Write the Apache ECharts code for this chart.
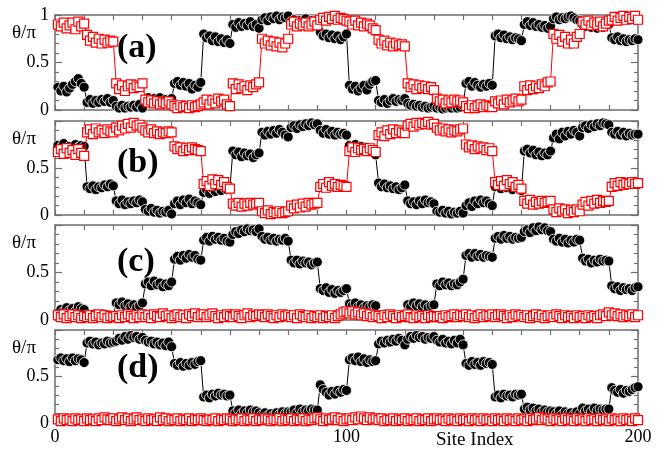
<!DOCTYPE html>
<html>
<head>
<meta charset="utf-8">
<script src="https://cdn.jsdelivr.net/npm/echarts@6/dist/echarts.min.js"></script>
<style>html,body{margin:0;padding:0;background:#fff}#c{width:670px;height:452px}</style>
</head>
<body>
<div id="c"></div>
<script>
// Panel (a)
const aBlack = [
0.24,0.20,0.25,0.19,0.23,0.27,0.30,0.33,0.28,0.24,
0.08,0.11,0.07,0.10,0.08,0.11,0.09,0.12,0.08,0.10,
0.04,0.02,0.05,0.02,0.04,0.03,0.05,0.03,0.06,0.02,
0.10,0.13,0.09,0.12,0.10,0.13,0.09,0.11,0.10,0.12,
0.28,0.30,0.26,0.29,0.25,0.28,0.22,0.26,0.24,0.29,
0.80,0.76,0.78,0.73,0.77,0.72,0.75,0.71,0.74,0.70,
0.90,0.87,0.92,0.88,0.91,0.89,0.93,0.88,0.90,0.86,
0.95,0.97,0.94,0.98,0.96,0.99,0.95,0.98,0.97,0.99,
0.93,0.95,0.92,0.94,0.93,0.96,0.92,0.94,0.93,0.95,
0.82,0.78,0.80,0.76,0.79,0.75,0.78,0.74,0.77,0.80,
0.26,0.22,0.25,0.20,0.23,0.26,0.21,0.27,0.30,0.31,
0.10,0.08,0.11,0.07,0.10,0.12,0.09,0.11,0.10,0.12,
0.07,0.05,0.06,0.04,0.05,0.03,0.04,0.02,0.03,0.04,
0.02,0.03,0.01,0.02,0.03,0.02,0.04,0.02,0.03,0.05,
0.28,0.30,0.25,0.29,0.26,0.24,0.27,0.25,0.28,0.26,
0.78,0.80,0.76,0.79,0.75,0.77,0.74,0.76,0.75,0.73,
0.90,0.93,0.89,0.92,0.88,0.90,0.87,0.89,0.86,0.88,
0.96,0.98,0.95,0.97,0.96,0.98,0.99,0.97,0.95,0.94,
0.90,0.88,0.91,0.87,0.89,0.86,0.88,0.87,0.89,0.90,
0.76,0.74,0.77,0.73,0.75,0.72,0.74,0.73,0.75,0.74];
const aRed = [
0.90,0.88,0.92,0.86,0.89,0.92,0.85,0.93,0.88,0.91,
0.79,0.73,0.77,0.71,0.75,0.70,0.74,0.71,0.73,0.72,
0.28,0.22,0.26,0.20,0.25,0.27,0.23,0.26,0.24,0.28,
0.11,0.08,0.10,0.07,0.09,0.06,0.08,0.07,0.09,0.06,
0.04,0.02,0.05,0.03,0.04,0.02,0.05,0.03,0.04,0.06,
0.08,0.11,0.06,0.10,0.07,0.12,0.09,0.11,0.06,0.04,
0.28,0.22,0.27,0.23,0.25,0.21,0.26,0.24,0.27,0.29,
0.75,0.70,0.73,0.68,0.72,0.67,0.71,0.66,0.70,0.75,
0.90,0.93,0.88,0.91,0.89,0.92,0.88,0.90,0.93,0.89,
0.95,0.97,0.94,0.98,0.96,0.99,0.95,0.97,0.96,0.94,
0.93,0.90,0.94,0.89,0.92,0.88,0.91,0.89,0.86,0.84,
0.74,0.70,0.73,0.68,0.71,0.67,0.70,0.68,0.69,0.67,
0.28,0.24,0.27,0.22,0.26,0.23,0.25,0.22,0.24,0.21,
0.12,0.09,0.11,0.07,0.10,0.08,0.11,0.09,0.10,0.08,
0.04,0.02,0.05,0.02,0.04,0.06,0.03,0.05,0.04,0.03,
0.09,0.07,0.10,0.06,0.11,0.08,0.10,0.12,0.09,0.11,
0.25,0.21,0.26,0.22,0.25,0.23,0.27,0.25,0.29,0.30,
0.80,0.75,0.79,0.72,0.77,0.70,0.74,0.70,0.77,0.80,
0.93,0.90,0.94,0.89,0.92,0.90,0.93,0.88,0.91,0.94,
0.95,0.98,0.94,0.97,0.99,0.95,0.98,0.96,0.99,0.95];
// Panel (b)
const bBlack = [
0.74,0.72,0.76,0.70,0.73,0.71,0.75,0.72,0.74,0.73,
0.30,0.28,0.31,0.27,0.30,0.29,0.32,0.30,0.33,0.31,
0.15,0.12,0.16,0.11,0.14,0.12,0.15,0.13,0.16,0.14,
0.06,0.04,0.07,0.03,0.05,0.02,0.04,0.03,0.05,0.01,
0.12,0.15,0.11,0.16,0.13,0.17,0.12,0.15,0.13,0.11,
0.24,0.27,0.23,0.28,0.25,0.29,0.26,0.30,0.27,0.28,
0.68,0.64,0.67,0.62,0.66,0.63,0.65,0.61,0.64,0.66,
0.88,0.85,0.89,0.86,0.90,0.87,0.91,0.88,0.85,0.83,
0.93,0.95,0.92,0.96,0.94,0.97,0.95,0.98,0.96,0.97,
0.90,0.87,0.91,0.86,0.89,0.85,0.88,0.86,0.87,0.85,
0.74,0.71,0.75,0.70,0.73,0.69,0.72,0.70,0.68,0.64,
0.34,0.30,0.33,0.29,0.31,0.28,0.30,0.27,0.29,0.32,
0.15,0.12,0.14,0.11,0.15,0.12,0.16,0.13,0.14,0.12,
0.04,0.03,0.05,0.02,0.04,0.01,0.03,0.02,0.04,0.02,
0.10,0.13,0.09,0.15,0.12,0.16,0.13,0.15,0.12,0.10,
0.30,0.32,0.28,0.33,0.29,0.31,0.27,0.30,0.28,0.26,
0.68,0.70,0.66,0.69,0.64,0.67,0.63,0.66,0.64,0.68,
0.82,0.86,0.81,0.88,0.84,0.89,0.86,0.90,0.88,0.84,
0.93,0.95,0.92,0.96,0.94,0.97,0.95,0.98,0.97,0.96,
0.88,0.86,0.89,0.85,0.88,0.84,0.87,0.85,0.86,0.86];
const bRed = [
0.67,0.70,0.65,0.71,0.66,0.69,0.64,0.70,0.66,0.63,
0.88,0.91,0.86,0.92,0.88,0.90,0.87,0.91,0.89,0.88,
0.93,0.90,0.95,0.92,0.97,0.93,0.98,0.95,0.96,0.93,
0.90,0.88,0.91,0.87,0.89,0.86,0.88,0.87,0.89,0.88,
0.73,0.70,0.72,0.68,0.71,0.69,0.72,0.70,0.69,0.68,
0.33,0.36,0.31,0.38,0.33,0.37,0.32,0.35,0.30,0.28,
0.12,0.10,0.13,0.09,0.12,0.10,0.13,0.11,0.12,0.13,
0.04,0.02,0.05,0.01,0.03,0.02,0.04,0.02,0.03,0.04,
0.10,0.07,0.11,0.08,0.12,0.09,0.13,0.11,0.12,0.13,
0.30,0.33,0.29,0.35,0.31,0.33,0.30,0.32,0.31,0.30,
0.68,0.72,0.67,0.71,0.69,0.70,0.68,0.71,0.69,0.67,
0.85,0.88,0.84,0.90,0.86,0.91,0.87,0.90,0.88,0.87,
0.95,0.97,0.94,0.98,0.96,0.98,0.97,0.99,0.96,0.97,
0.93,0.90,0.92,0.89,0.91,0.88,0.90,0.89,0.91,0.92,
0.75,0.72,0.74,0.70,0.73,0.71,0.72,0.69,0.71,0.68,
0.35,0.32,0.36,0.31,0.37,0.33,0.35,0.30,0.32,0.28,
0.15,0.12,0.16,0.11,0.14,0.12,0.15,0.13,0.14,0.15,
0.06,0.03,0.07,0.04,0.06,0.02,0.05,0.03,0.06,0.04,
0.11,0.14,0.10,0.15,0.12,0.16,0.13,0.15,0.14,0.15,
0.30,0.34,0.31,0.35,0.32,0.34,0.33,0.35,0.33,0.34];
// Panel (c)
const cBlack = [
0.08,0.11,0.09,0.13,0.10,0.12,0.09,0.14,0.12,0.11,
0.05,0.03,0.06,0.04,0.05,0.03,0.06,0.04,0.05,0.04,
0.18,0.16,0.19,0.15,0.17,0.14,0.16,0.13,0.15,0.18,
0.38,0.40,0.36,0.41,0.37,0.39,0.35,0.38,0.36,0.40,
0.64,0.67,0.63,0.68,0.65,0.69,0.66,0.68,0.64,0.63,
0.84,0.87,0.83,0.88,0.85,0.87,0.84,0.86,0.83,0.82,
0.90,0.93,0.91,0.95,0.93,0.96,0.94,0.95,0.93,0.96,
0.88,0.85,0.87,0.84,0.86,0.83,0.85,0.84,0.86,0.83,
0.63,0.60,0.63,0.59,0.62,0.60,0.61,0.58,0.60,0.61,
0.33,0.31,0.34,0.29,0.32,0.28,0.31,0.29,0.31,0.33,
0.17,0.15,0.18,0.14,0.16,0.13,0.15,0.14,0.16,0.15,
0.05,0.03,0.06,0.04,0.05,0.02,0.04,0.03,0.05,0.03,
0.16,0.14,0.18,0.15,0.17,0.14,0.16,0.13,0.15,0.16,
0.38,0.36,0.40,0.37,0.39,0.36,0.38,0.37,0.40,0.43,
0.68,0.70,0.66,0.70,0.67,0.69,0.66,0.68,0.67,0.66,
0.86,0.88,0.85,0.89,0.86,0.88,0.85,0.87,0.86,0.87,
0.93,0.95,0.92,0.97,0.94,0.98,0.95,0.97,0.94,0.93,
0.85,0.83,0.86,0.82,0.85,0.81,0.84,0.82,0.85,0.84,
0.65,0.62,0.64,0.60,0.63,0.61,0.64,0.62,0.63,0.62,
0.36,0.33,0.35,0.31,0.34,0.32,0.33,0.31,0.34,0.35];
const cRed = [
0.05,0.03,0.06,0.02,0.04,0.06,0.03,0.05,0.02,0.04,
0.03,0.05,0.02,0.04,0.06,0.03,0.05,0.02,0.04,0.03,
0.04,0.02,0.05,0.03,0.06,0.04,0.02,0.05,0.03,0.06,
0.03,0.05,0.02,0.06,0.04,0.03,0.07,0.04,0.05,0.02,
0.04,0.06,0.03,0.05,0.02,0.06,0.04,0.07,0.03,0.05,
0.06,0.03,0.05,0.07,0.04,0.02,0.05,0.03,0.06,0.04,
0.03,0.06,0.04,0.02,0.05,0.07,0.03,0.05,0.04,0.06,
0.05,0.03,0.06,0.04,0.02,0.05,0.03,0.06,0.04,0.05,
0.03,0.05,0.02,0.06,0.04,0.03,0.05,0.02,0.04,0.03,
0.05,0.02,0.04,0.03,0.05,0.02,0.04,0.06,0.08,0.09,
0.07,0.09,0.06,0.08,0.05,0.07,0.04,0.06,0.03,0.05,
0.04,0.02,0.05,0.03,0.06,0.04,0.02,0.05,0.03,0.04,
0.06,0.03,0.02,0.05,0.03,0.04,0.02,0.05,0.03,0.04,
0.03,0.04,0.02,0.05,0.03,0.04,0.06,0.03,0.05,0.04,
0.06,0.03,0.05,0.02,0.04,0.06,0.03,0.05,0.04,0.06,
0.03,0.05,0.06,0.04,0.02,0.05,0.03,0.06,0.04,0.05,
0.03,0.05,0.02,0.04,0.06,0.03,0.05,0.02,0.04,0.05,
0.03,0.06,0.04,0.02,0.05,0.03,0.04,0.02,0.05,0.03,
0.04,0.02,0.05,0.03,0.04,0.02,0.05,0.06,0.04,0.08,
0.05,0.07,0.04,0.06,0.03,0.05,0.04,0.06,0.03,0.05];
// Panel (d)
const dBlack = [
0.68,0.70,0.67,0.69,0.66,0.70,0.67,0.69,0.68,0.65,
0.86,0.88,0.85,0.87,0.84,0.86,0.85,0.88,0.86,0.87,
0.88,0.91,0.89,0.93,0.90,0.94,0.92,0.93,0.90,0.92,
0.89,0.87,0.88,0.85,0.87,0.84,0.86,0.83,0.87,0.82,
0.64,0.62,0.65,0.61,0.64,0.62,0.65,0.63,0.66,0.67,
0.28,0.30,0.27,0.31,0.29,0.32,0.30,0.31,0.29,0.30,
0.13,0.11,0.14,0.10,0.13,0.11,0.14,0.12,0.13,0.11,
0.09,0.11,0.08,0.10,0.08,0.11,0.09,0.12,0.10,0.12,
0.12,0.14,0.11,0.15,0.12,0.14,0.13,0.15,0.14,0.14,
0.41,0.36,0.33,0.30,0.34,0.31,0.35,0.33,0.36,0.35,
0.68,0.70,0.67,0.71,0.66,0.69,0.65,0.68,0.66,0.67,
0.85,0.88,0.86,0.89,0.87,0.90,0.88,0.91,0.89,0.84,
0.90,0.93,0.91,0.94,0.92,0.93,0.90,0.92,0.91,0.93,
0.89,0.87,0.90,0.86,0.88,0.85,0.89,0.86,0.90,0.84,
0.64,0.62,0.66,0.63,0.65,0.62,0.66,0.64,0.65,0.63,
0.28,0.30,0.27,0.31,0.29,0.30,0.28,0.31,0.30,0.31,
0.15,0.17,0.14,0.16,0.13,0.15,0.12,0.14,0.12,0.13,
0.12,0.10,0.13,0.09,0.12,0.10,0.11,0.09,0.12,0.10,
0.16,0.13,0.15,0.12,0.16,0.13,0.15,0.14,0.15,0.15,
0.38,0.35,0.33,0.36,0.32,0.35,0.34,0.36,0.38,0.39];
const dRed = [
0.04,0.02,0.05,0.03,0.04,0.02,0.05,0.03,0.04,0.02,
0.05,0.03,0.04,0.02,0.05,0.03,0.06,0.04,0.03,0.05,
0.02,0.04,0.06,0.03,0.05,0.02,0.04,0.06,0.03,0.04,
0.02,0.05,0.03,0.04,0.02,0.06,0.03,0.05,0.02,0.04,
0.03,0.05,0.02,0.04,0.03,0.05,0.02,0.04,0.03,0.05,
0.03,0.02,0.04,0.03,0.05,0.02,0.04,0.03,0.05,0.04,
0.02,0.04,0.03,0.05,0.02,0.04,0.03,0.05,0.02,0.04,
0.03,0.05,0.04,0.02,0.04,0.03,0.05,0.02,0.04,0.03,
0.05,0.02,0.04,0.03,0.05,0.02,0.04,0.03,0.05,0.06,
0.04,0.02,0.05,0.03,0.04,0.06,0.03,0.05,0.02,0.04,
0.05,0.03,0.06,0.04,0.07,0.05,0.03,0.06,0.04,0.05,
0.03,0.05,0.02,0.04,0.03,0.05,0.02,0.04,0.03,0.05,
0.02,0.04,0.03,0.05,0.02,0.04,0.03,0.05,0.02,0.04,
0.05,0.03,0.04,0.02,0.05,0.03,0.04,0.02,0.05,0.03,
0.04,0.02,0.05,0.03,0.04,0.02,0.05,0.03,0.04,0.02,
0.05,0.03,0.04,0.02,0.05,0.03,0.04,0.02,0.05,0.03,
0.04,0.02,0.05,0.03,0.04,0.06,0.03,0.05,0.04,0.02,
0.05,0.03,0.04,0.02,0.05,0.03,0.04,0.02,0.05,0.03,
0.04,0.02,0.05,0.03,0.04,0.02,0.05,0.03,0.04,0.02,
0.05,0.03,0.04,0.02,0.05,0.03,0.04,0.02,0.05,0.03];

const panelLabels = ['(a)', '(b)', '(c)', '(d)'];
const xTickLabels = [0, 100, 200];
const yTickLabelsTop = ['0', '0.5', '1'];
const yTickLabelsOther = ['0', '0.5'];
const xTitle = 'Site Index';
const yTitle = 'θ/π';

const panels = [[aBlack, aRed], [bBlack, bRed], [cBlack, cRed], [dBlack, dRed]];
const gridPos = [{top: 15, height: 95}, {top: 121, height: 94}, {top: 225, height: 95}, {top: 330, height: 93}];
const labelTop = [16, 25, 20, 21];

const AX = '#6e6e6e';
const FONT = 'Liberation Serif';
const grids = [], xAxes = [], yAxes = [], series = [], graphics = [];

gridPos.forEach((g, k) => {
  grids.push({left: 55, right: 32, top: g.top, height: g.height, show: false});
  const isLast = k === 3;
  const baseX = {
    gridIndex: k, type: 'value', min: 0, max: 200, interval: 10,
    axisLine: {show: true, onZero: false, lineStyle: {color: AX, width: 1.5}},
    axisTick: {show: true, inside: true, length: 5, lineStyle: {color: AX, width: 1.2}},
    splitLine: {show: false}
  };
  xAxes.push(Object.assign({}, baseX, {
    position: 'bottom',
    axisLabel: {
      show: isLast, margin: 5, color: '#000', fontFamily: FONT, fontSize: 18,
      formatter: v => (xTickLabels.indexOf(v) >= 0 ? String(v) : '')
    }
  }));
  xAxes.push(Object.assign({}, baseX, {position: 'top', axisLabel: {show: false}}));
  const labels = k === 0 ? yTickLabelsTop : yTickLabelsOther;
  const baseY = {
    gridIndex: k, type: 'value', min: 0, max: 1, interval: 0.5,
    axisLine: {show: true, onZero: false, lineStyle: {color: AX, width: 1.5}},
    axisTick: {show: true, inside: true, length: 7, lineStyle: {color: AX, width: 1.2}},
    minorTick: {show: true, splitNumber: 5, length: 4, lineStyle: {color: AX, width: 1.2}},
    splitLine: {show: false}, minorSplitLine: {show: false}
  };
  yAxes.push(Object.assign({}, baseY, {
    position: 'left',
    axisLabel: {
      show: true, margin: 6, color: '#000', fontFamily: FONT, fontSize: 18,
      formatter: v => { const s = String(v); return labels.indexOf(s) >= 0 ? s : ''; }
    }
  }));
  yAxes.push(Object.assign({}, baseY, {position: 'right', axisLabel: {show: false}}));

  const [blk, red] = panels[k];
  series.push({
    type: 'line', xAxisIndex: 2 * k, yAxisIndex: 2 * k, clip: false,
    data: blk.map((v, i) => [i + 1, v]),
    symbol: 'circle', symbolSize: 10, showAllSymbol: true,
    lineStyle: {color: '#000', width: 1},
    itemStyle: {color: '#000', borderColor: '#fff', borderWidth: 0.8},
    animation: false, z: 2
  });
  series.push({
    type: 'line', xAxisIndex: 2 * k, yAxisIndex: 2 * k, clip: false,
    data: red.map((v, i) => [i + 1, v]),
    symbol: 'rect', symbolSize: 9, showAllSymbol: true,
    lineStyle: {color: '#ff0000', width: 1},
    itemStyle: {color: '#fff', borderColor: '#ff0000', borderWidth: 1.2},
    animation: false, z: 3
  });

  graphics.push({
    type: 'text', left: 12, top: g.top + 9,
    style: {text: yTitle, font: '19px "' + FONT + '"', fill: '#000'}, z: 10
  });
  graphics.push({
    type: 'text', left: 117, top: g.top + labelTop[k],
    style: {text: panelLabels[k], font: 'bold 34px "' + FONT + '"', fill: '#000'}, z: 10
  });
});

graphics.push({
  type: 'text', left: 436, top: 431,
  style: {text: xTitle, font: '19px "' + FONT + '"', fill: '#000'}, z: 10
});

const chart = echarts.init(document.getElementById('c'), null, {renderer: 'canvas'});
chart.setOption({
  animation: false,
  backgroundColor: '#fff',
  grid: grids, xAxis: xAxes, yAxis: yAxes, series: series, graphic: graphics
});
</script>
</body>
</html>
